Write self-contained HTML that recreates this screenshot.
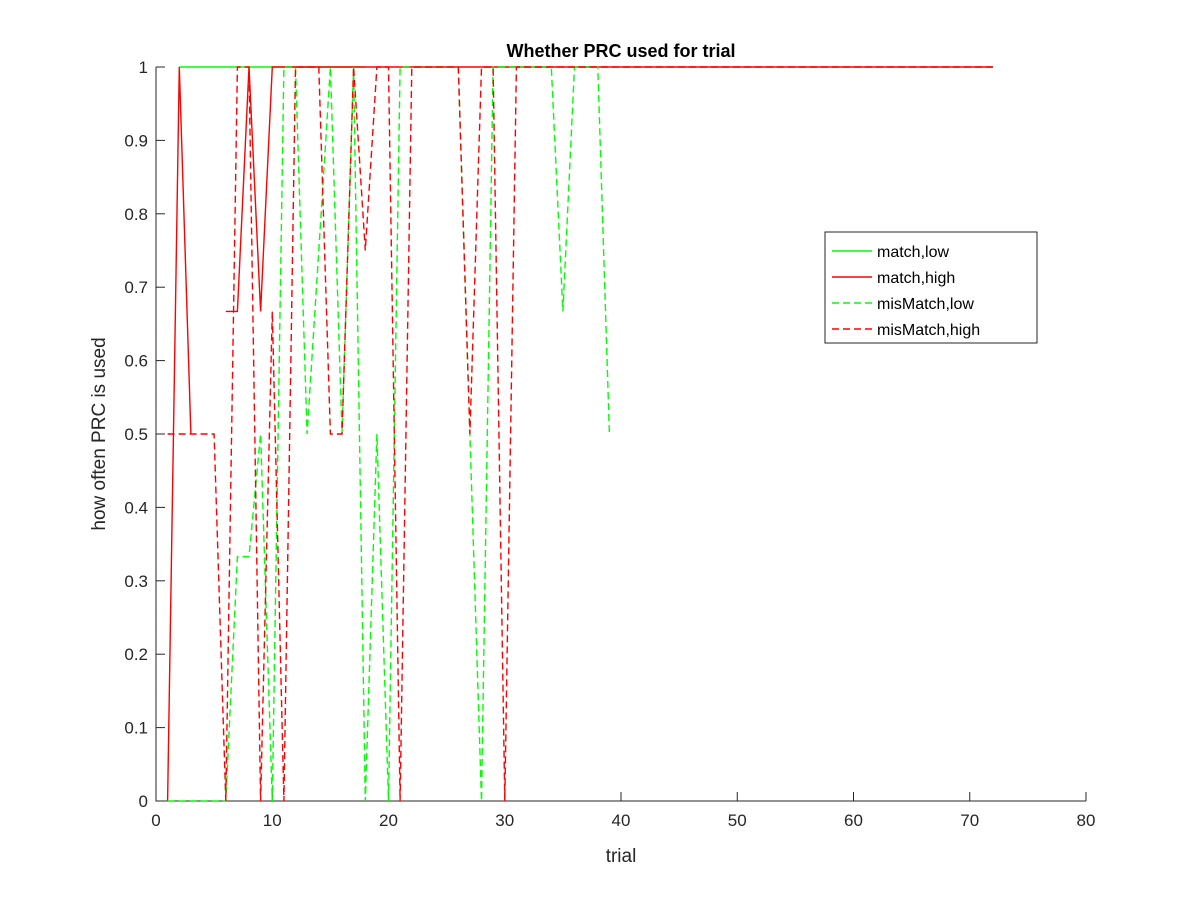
<!DOCTYPE html>
<html><head><meta charset="utf-8"><style>
body{margin:0;background:#fff;font-family:"Liberation Sans",Arial,sans-serif}
svg text{font-family:"Liberation Sans",Arial,sans-serif}
</style></head><body>
<svg id="chart" width="1200" height="900" xmlns="http://www.w3.org/2000/svg">
<rect x="0" y="0" width="1200" height="900" fill="#fff"/>
<g id="plot"></g>
</svg>
<script>
const xTicks=[0,10,20,30,40,50,60,70,80];
const yTicks=[0,0.1,0.2,0.3,0.4,0.5,0.6,0.7,0.8,0.9,1];
const seriesNames=["match,low","match,high","misMatch,low","misMatch,high"];
const matchLow=[null,1,1,1,1,1,1,1,1,1,1,1,1,1,1,1,1,1];
const matchHigh=[0,1,0.5,null,null,0.667,0.667,1,0.667,1,1,1,1,1,1,1,1,1,1,1,1,1,1,1,1,1,1,1,1,1,1,1,1,1,1,1,1,1,1,1,1,1,1,1,1,1,1,1,1,1,1,1,1,1,1,1,1,1,1,1,1,1,1,1,1,1,1,1,1,1,1,1];
const misMatchLow=[0,0,0,0,0,0,0.333,0.333,0.5,0,1,1,0.5,0.75,1,0.5,1,0,0.5,0,1,1,1,1,1,1,0.5,0,1,1,1,1,1,1,0.667,1,1,1,0.5];
const misMatchHigh=[0.5,0.5,0.5,0.5,0.5,0,1,1,0,0.667,0,1,1,1,0.5,0.5,1,0.75,1,1,0,1,1,1,1,1,0.5,1,1,0,1,1,1,1,1,1,1,1,1,1,1,1,1,1,1,1,1,1,1,1,1,1,1,1,1,1,1,1,1,1,1,1,1,1,1,1,1,1,1,1,1,1];
const X0=156,X1=1086,Y0=801,Y1=67;
const sx=v=>X0+(v-0)/(80-0)*(X1-X0);
const sy=v=>Y0-(v-0)/(1-0)*(Y0-Y1);
const NS="http://www.w3.org/2000/svg";
const g=document.getElementById('plot');
function mk(tag,attrs,parent){const e=document.createElementNS(NS,tag);for(const k in attrs)e.setAttribute(k,attrs[k]);(parent||g).appendChild(e);return e;}
const ax=mk('path',{d:`M${X0},${Y1}V${Y0}H${X1}`,stroke:'#262626',fill:'none','stroke-width':1});


xTicks.forEach(t=>{
 const tk=mk('line',{x1:sx(t),x2:sx(t),y1:Y0,y2:Y0-9,stroke:'#262626'});
 
 
 const tl=mk('text',{x:sx(t),y:Y0+25,'text-anchor':'middle','font-size':17,fill:'#262626'});
 tl.textContent=t;
 
 
});
yTicks.forEach(t=>{
 const tk=mk('line',{x1:X0,x2:X0+9,y1:sy(t),y2:sy(t),stroke:'#262626'});
 
 
 const tl=mk('text',{x:X0-8,y:sy(t)+6,'text-anchor':'end','font-size':17,fill:'#262626'});
 tl.textContent=String(t);
 
 
});
const title=mk('text',{x:621,y:57,'text-anchor':'middle','font-size':18,'font-weight':'bold',fill:'#000'});
title.textContent='Whether PRC used for trial';


const xl=mk('text',{x:621,y:862,'text-anchor':'middle','font-size':19,fill:'#262626'});
xl.textContent='trial';


const yl=mk('text',{x:0,y:0,'text-anchor':'middle','font-size':19,fill:'#262626',transform:'translate(105,434) rotate(-90)'});
yl.textContent='how often PRC is used';


function drawSeries(arr,color,dash,name){
 let d='',pen=false;
 arr.forEach((v,i)=>{
  if(v===null){pen=false;return;}
  d+=(pen?'L':'M')+sx(i+1).toFixed(1)+','+sy(v).toFixed(1);pen=true;
 });
 const p=mk('path',{d:d,stroke:color,fill:'none','stroke-width':1.4});
 if(dash)p.setAttribute('stroke-dasharray','7,4');
 
 
}
drawSeries(matchLow,'#00ff00',false,'line-match-low');
drawSeries(matchHigh,'#ff0000',false,'line-match-high');
drawSeries(misMatchLow,'#00ff00',true,'line-mismatch-low');
drawSeries(misMatchHigh,'#ff0000',true,'line-mismatch-high');
const lg=mk('g',{});


mk('rect',{x:825,y:232,width:212,height:111,fill:'#fff',stroke:'#262626','stroke-width':1},lg);
const cols=['#00ff00','#ff0000','#00ff00','#ff0000'],dashes=[false,false,true,true];
seriesNames.forEach((n,i)=>{
 const y=251+i*26;
 const e=mk('g',{},lg);
 
 
 const l=mk('line',{x1:832,x2:872,y1:y,y2:y,stroke:cols[i],'stroke-width':1.4},e);
 if(dashes[i])l.setAttribute('stroke-dasharray','7,4');
 const t=mk('text',{x:877,y:y+6,'font-size':16,fill:'#000'},e);
 t.textContent=n;
});
</script>
</body></html>
